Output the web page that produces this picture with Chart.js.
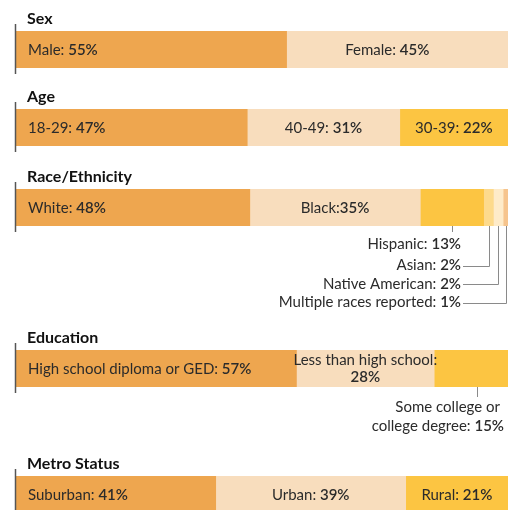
<!DOCTYPE html>
<html>
<head>
<meta charset="utf-8">
<title>Demographics</title>
<script src="https://cdn.jsdelivr.net/npm/chart.js@4/dist/chart.umd.min.js"></script>
<style>
  html, body { margin: 0; padding: 0; background: #fff; overflow: hidden; }
  #wrap { position: relative; width: 516px; height: 510px; overflow: hidden; }
  #wrap canvas { position: absolute; left: 0; }
</style>
</head>
<body>
<div id="wrap">
  <canvas id="sex" width="516" height="78" style="top:0px"></canvas>
  <canvas id="age" width="516" height="78" style="top:78px"></canvas>
  <canvas id="race" width="516" height="162" style="top:158px"></canvas>
  <canvas id="edu" width="516" height="126" style="top:320px"></canvas>
  <canvas id="metro" width="516" height="78" style="top:446px"></canvas>
</div>
<script>
// ---- data ----
const sexNames = ['Male', 'Female'];
const sexValues = [55, 45];

const ageNames = ['18-29', '40-49', '30-39'];
const ageValues = [47, 31, 22];

const raceNames = ['White', 'Black', 'Hispanic', 'Asian', 'Native American', 'Multiple races reported'];
const raceValues = [48, 35, 13, 2, 2, 1];

const eduNames = ['High school diploma or GED', 'Less than high school', 'Some college or college degree'];
const eduValues = [57, 28, 15];

const metroNames = ['Suburban', 'Urban', 'Rural'];
const metroValues = [41, 39, 21];

// ---- styles ----
const ORANGE = '#EEA64F';
const PEACH = '#F8DDBD';
const YELLOW = '#FCC542';
const FONT = 'Lato, "Open Sans", sans-serif';
const SIZE = '15px ';
const TEXT = '#2b2b2b';
const BAR_H = 37;

function sum(a) { return a.reduce((s, v) => s + v, 0); }

// prefix in regular weight, number a bit heavier
function drawLabel(ctx, prefix, num, x, y, align) {
  ctx.font = SIZE + FONT;
  const w1 = ctx.measureText(prefix).width;
  ctx.font = '600 ' + SIZE + FONT;
  const w2 = ctx.measureText(num).width;
  let start = x;
  if (align === 'center') start = x - (w1 + w2) / 2;
  if (align === 'right') start = x - (w1 + w2);
  ctx.textAlign = 'left';
  ctx.textBaseline = 'alphabetic';
  ctx.fillStyle = TEXT;
  ctx.font = SIZE + FONT;
  ctx.fillText(prefix, start, y);
  ctx.font = '600 ' + SIZE + FONT;
  ctx.fillText(num, start + w1, y);
}

const labelPlugin = {
  id: 'panelLabels',
  afterDatasetsDraw(chart) {
    const cfg = chart.options.plugins.panelLabels;
    const ctx = chart.ctx;
    const area = chart.chartArea;
    const bars = chart.data.datasets.map((d, i) => chart.getDatasetMeta(i).data[0]);
    ctx.save();

    // axis stub at the left
    ctx.strokeStyle = '#555';
    ctx.lineWidth = 1.5;
    ctx.beginPath();
    ctx.moveTo(area.left - 0.5, area.top - 7);
    ctx.lineTo(area.left - 0.5, area.bottom + 6);
    ctx.stroke();

    // panel title
    ctx.fillStyle = '#111';
    ctx.font = 'bold 16px ' + FONT;
    ctx.textAlign = 'left';
    ctx.textBaseline = 'alphabetic';
    ctx.fillText(cfg.title, 27, area.top - 7);

    const mid = (area.top + area.bottom) / 2;
    const sep = i => (cfg.seps && cfg.seps[i] !== undefined) ? cfg.seps[i] : ': ';

    // labels inside the bar
    (cfg.inside || []).forEach(i => {
      const b = bars[i];
      const prefix = cfg.names[i] + sep(i);
      const num = cfg.values[i] + '%';
      if (i === 0) drawLabel(ctx, prefix, num, b.base + 12, mid + 5.5, 'left');
      else drawLabel(ctx, prefix, num, (b.base + b.x) / 2 + (cfg.shift || 0), mid + 5.5, 'center');
    });

    // two line label inside the bar
    (cfg.wrapped || []).forEach(i => {
      const b = bars[i];
      const cx = (b.base + b.x) / 2;
      ctx.fillStyle = TEXT;
      ctx.textAlign = 'center';
      ctx.font = SIZE + FONT;
      ctx.fillText(cfg.names[i] + ':', cx, mid - 3.5);
      ctx.font = '600 ' + SIZE + FONT;
      ctx.fillText(cfg.values[i] + '%', cx, mid + 13.5);
    });

    ctx.strokeStyle = '#8a8a8a';
    ctx.lineWidth = 1;

    // stacked callouts under the bar (race)
    if (cfg.below) {
      const textRight = 461;
      const offs = [23, 44, 62.5, 81];
      cfg.below.forEach((i, k) => {
        const b = bars[i];
        const cx = Math.round((b.base + b.x) / 2) + 0.5;
        const y = area.bottom + offs[k];
        drawLabel(ctx, cfg.names[i] + sep(i), cfg.values[i] + '%', textRight, y, 'right');
        ctx.beginPath();
        if (k === 0) {
          ctx.moveTo(cx, area.bottom);
          ctx.lineTo(cx, area.bottom + 6);
        } else {
          const ly = Math.round(y - 4.5) + 0.5;
          ctx.moveTo(cx, area.bottom);
          ctx.lineTo(cx, ly);
          ctx.lineTo(textRight + 2, ly);
        }
        ctx.stroke();
      });
    }

    // single callout with wrapped text (education)
    if (cfg.note !== undefined) {
      const i = cfg.note;
      const b = bars[i];
      const cx = Math.round((b.base + b.x) / 2) + 6.5;
      ctx.beginPath();
      ctx.moveTo(cx, area.bottom);
      ctx.lineTo(cx, area.bottom + 10);
      ctx.stroke();
      const words = cfg.names[i].split(' ');
      const line1 = words.slice(0, 3).join(' ');
      const line2 = words.slice(3).join(' ');
      ctx.fillStyle = TEXT;
      ctx.font = SIZE + FONT;
      ctx.textAlign = 'right';
      ctx.fillText(line1, 500, area.bottom + 25);
      drawLabel(ctx, line2 + ': ', cfg.values[i] + '%', 504, area.bottom + 44, 'right');
    }

    ctx.restore();
  }
};

function makePanel(id, barTop, opts) {
  const canvas = document.getElementById(id);
  const h = canvas.height;
  return new Chart(canvas, {
    type: 'bar',
    data: {
      labels: [opts.title],
      datasets: opts.names.map((n, i) => ({
        label: n,
        data: [opts.values[i]],
        backgroundColor: opts.colors[i],
        borderWidth: 0,
        barPercentage: 1,
        categoryPercentage: 1
      }))
    },
    options: {
      indexAxis: 'y',
      responsive: false,
      animation: false,
      layout: {
        padding: { left: 16, right: 8, top: barTop, bottom: h - barTop - BAR_H }
      },
      scales: {
        x: { stacked: true, min: 0, max: sum(opts.values), display: false },
        y: { stacked: true, display: false }
      },
      plugins: {
        legend: { display: false },
        tooltip: { enabled: false },
        panelLabels: opts
      }
    },
    plugins: [labelPlugin]
  });
}

makePanel('sex', 31, {
  title: 'Sex', names: sexNames, values: sexValues,
  colors: [ORANGE, PEACH], inside: [0, 1], shift: -10
});

makePanel('age', 31, {
  title: 'Age', names: ageNames, values: ageValues,
  colors: [ORANGE, PEACH, YELLOW], inside: [0, 1, 2]
});

makePanel('race', 31, {
  title: 'Race/Ethnicity', names: raceNames, values: raceValues,
  colors: [ORANGE, PEACH, YELLOW, '#FDDA8C', '#FEEBC9', '#F6C48D'],
  seps: { 1: ':' },
  inside: [0, 1], below: [2, 3, 4, 5]
});

makePanel('edu', 30, {
  title: 'Education', names: eduNames, values: eduValues,
  colors: [ORANGE, PEACH, YELLOW], inside: [0], wrapped: [1], note: 2
});

makePanel('metro', 30, {
  title: 'Metro Status', names: metroNames, values: metroValues,
  colors: [ORANGE, PEACH, YELLOW], inside: [0, 1, 2]
});
</script>
</body>
</html>
